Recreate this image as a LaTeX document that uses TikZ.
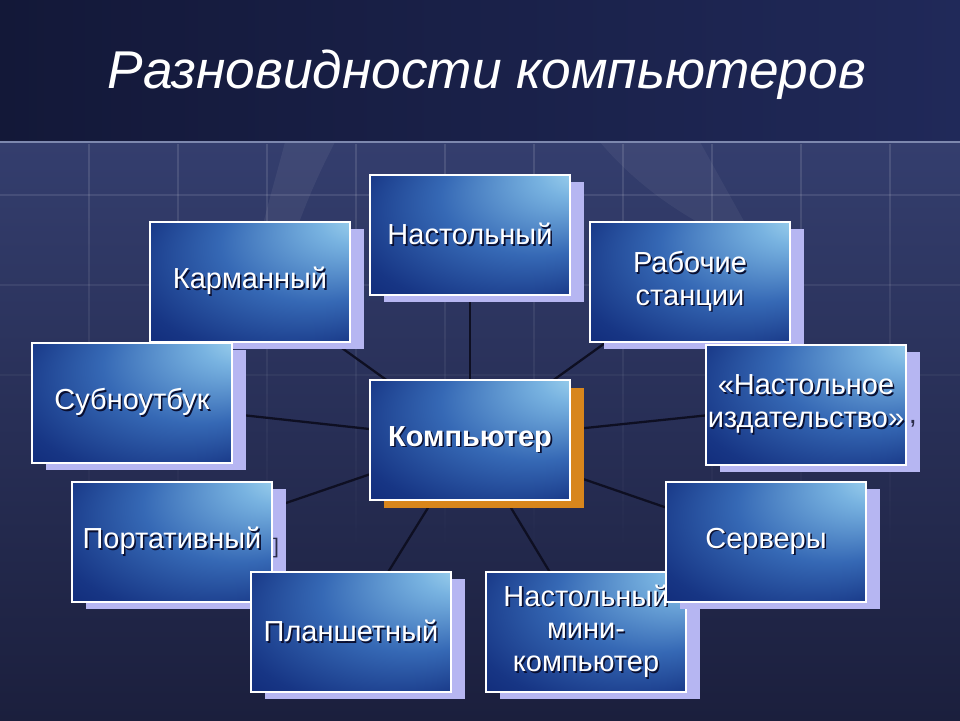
\documentclass[tikz,border=0pt]{standalone}
\usepackage{fontspec}
\setmainfont{Liberation Sans}
\usetikzlibrary{shadows,backgrounds,fadings}

\definecolor{bgtop}{HTML}{131838}
\definecolor{bgtopr}{HTML}{202959}
\definecolor{gridtop}{HTML}{343E6E}
\definecolor{gridmid}{HTML}{21284E}
\definecolor{bgbot}{HTML}{1B1F3D}
\definecolor{rulecol}{HTML}{7D88AE}
\definecolor{shadowlav}{HTML}{B6B6F2}
\definecolor{shadoworange}{HTML}{D8861C}
\definecolor{spokecol}{HTML}{0E0F22}
\definecolor{stray}{HTML}{2A2C48}
\definecolor{txtshade}{HTML}{0A0F30}

% light spot in the upper right corner of each panel
\pgfdeclareradialshading{boxglow}{\pgfpoint{32bp}{30bp}}{%
  rgb(0bp)=(0.70,0.89,0.96);
  rgb(9bp)=(0.47,0.70,0.88);
  rgb(24bp)=(0.21,0.41,0.71);
  rgb(38bp)=(0.09,0.21,0.52);
  rgb(50bp)=(0.04,0.12,0.42)}

% white text with a dark offset copy beneath it
\newcommand\txtsh[1]{\leavevmode\rlap{\kern0.9pt\raisebox{-0.9pt}{\textcolor{txtshade}{#1}}}#1}

\tikzset{
  panel/.style={minimum width=4cm, minimum height=2.4cm, inner sep=0pt,
    draw=white, line width=0.7pt, shading=boxglow, text=white, align=center,
    font=\fontsize{16.5}{18.7}\selectfont},
  box/.style={panel, drop shadow={shadow xshift=0.28cm, shadow yshift=-0.14cm,
    fill=shadowlav, opacity=1}},
  hub/.style={panel, font=\fontsize{16.5}{18.7}\selectfont\bfseries,
    drop shadow={shadow xshift=0.28cm, shadow yshift=-0.16cm,
    fill=shadoworange, opacity=1}},
  spoke/.style={spokecol, line width=1.3pt},
  gridline/.style={white, line width=1pt},
  title/.style={text=white, font=\fontsize{30.3}{36}\selectfont\itshape, anchor=base}
}

\begin{document}
\begin{tikzpicture}[x=0.02cm, y=-0.02cm]
    \useasboundingbox (0,0) rectangle (960,720);

    \node[title] (title) at (487,88) {Разновидности компьютеров};

    % --- outer ring ---
    \node[box] (nast) at (470,235) {\txtsh{Настольный}};
    \node[box] (karm) at (250,282) {\txtsh{Карманный}};
    \node[box] (rab) at (690,282) {\txtsh{Рабочие}\\\txtsh{станции}};
    \node[box] (sub) at (132,403) {\txtsh{Субноутбук}};
    \node[box] (izd) at (806,405) {\txtsh{«Настольное}\\\txtsh{издательство»}};
    \node[text=stray, font=\fontsize{16.5}{18.7}\selectfont] (izdc) at (913,424) {,};
    \node[box] (port) at (172,542) {\txtsh{Портативный}};
    \node[text=stray, font=\fontsize{12}{14}\selectfont] (portc) at (276,548) {]};
    \node[box] (plan) at (351,632) {\txtsh{Планшетный}};
    \node[box] (mini) at (586,632) {\txtsh{Настольный}\\\txtsh{мини-}\\\txtsh{компьютер}};
    \node[box] (serv) at (766,542) {\txtsh{Серверы}};

    % --- centre ---
    \node[hub] (comp) at (470,440) {\txtsh{Компьютер}};

    \begin{scope}[on background layer]
        % --- backdrop ---
        \shade[left color=bgtop, right color=bgtopr] (0,0) rectangle (960,142);
        \shade[top color=gridtop, middle color=gridmid, bottom color=bgbot] (0,142) rectangle (960,720);
        \fill[white, opacity=0.06] (285,142) .. controls (270,200) and (250,260) .. (245,330)
            -- (270,325) .. controls (285,250) and (310,190) .. (335,142) -- cycle;
        \fill[white, opacity=0.05] (600,142) .. controls (640,190) and (700,230) .. (760,250)
            -- (700,142) -- cycle;
        \draw[gridline, opacity=0.12, path fading=south]
            \foreach \gx in {89,178,...,890} {(\gx,144) -- (\gx,560)};
        \draw[gridline, opacity=0.10] (0,195) -- (960,195);
        \draw[gridline, opacity=0.07] (0,285) -- (960,285);
        \draw[gridline, opacity=0.04] (0,375) -- (960,375);
        \draw[rulecol, line width=1.4pt] (0,142) -- (960,142);

        % --- spokes ---
        \foreach \n in {nast,karm,rab,sub,izd,port,plan,mini,serv}
            \draw[spoke] (comp.center) -- (\n.center);
    \end{scope}
\end{tikzpicture}
\end{document}
